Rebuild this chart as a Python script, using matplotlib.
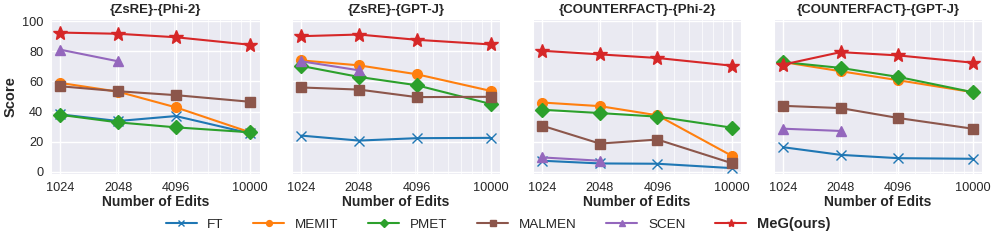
import matplotlib
matplotlib.use("Agg")
import matplotlib.pyplot as plt
from matplotlib.ticker import FixedLocator, NullFormatter
import seaborn as sns

sns.set_style("darkgrid")
plt.rcParams["font.family"] = ["Liberation Sans", "DejaVu Sans"]

edits = [1024, 2048, 4096, 10000]
scen_edits = [1024, 2048]

titles = ["{ZsRE}-{Phi-2}", "{ZsRE}-{GPT-J}", "{COUNTERFACT}-{Phi-2}", "{COUNTERFACT}-{GPT-J}"]

ft = [
    [38.1, 33.7, 37.0, 25.5],
    [24.0, 20.7, 22.3, 22.5],
    [7.3, 5.5, 5.3, 2.4],
    [16.3, 11.2, 9.0, 8.6],
]
memit = [
    [59.0, 53.2, 42.8, 26.2],
    [74.0, 70.7, 64.8, 53.7],
    [46.0, 43.6, 37.5, 10.6],
    [72.9, 66.8, 60.8, 52.9],
]
pmet = [
    [37.8, 32.8, 29.5, 26.2],
    [70.3, 63.0, 57.5, 45.0],
    [41.2, 39.0, 36.6, 29.3],
    [72.9, 69.0, 63.0, 52.9],
]
malmen = [
    [56.8, 53.5, 50.9, 46.5],
    [56.0, 54.6, 49.6, 49.8],
    [30.6, 18.7, 21.4, 5.7],
    [43.8, 42.3, 35.7, 28.6],
]
scen = [
    [81.1, 73.4],
    [73.4, 67.4],
    [9.5, 7.3],
    [28.6, 27.1],
]
meg = [
    [92.5, 91.7, 89.4, 84.4],
    [90.1, 91.2, 87.7, 84.6],
    [80.4, 78.0, 75.6, 70.5],
    [71.2, 79.5, 77.3, 72.5],
]

fig, axes = plt.subplots(1, 4, figsize=(9.96, 2.44), dpi=100, sharey=True)
fig.subplots_adjust(left=0.0512, right=0.986, bottom=0.287, top=0.922, wspace=0.155)

for i, ax in enumerate(axes):
    ax.plot(edits, ft[i], color="tab:blue", marker="x", markersize=7, linewidth=1.5, label="FT")
    ax.plot(edits, memit[i], color="tab:orange", marker="o", markersize=7, linewidth=1.5, label="MEMIT")
    ax.plot(edits, pmet[i], color="tab:green", marker="D", markersize=7, linewidth=1.5, label="PMET")
    ax.plot(edits, malmen[i], color="tab:brown", marker="s", markersize=7, linewidth=1.5, label="MALMEN")
    ax.plot(scen_edits, scen[i], color="tab:purple", marker="^", markersize=7, linewidth=1.5, label="SCEN")
    ax.plot(edits, meg[i], color="tab:red", marker="*", markersize=10, linewidth=1.5, label="MeG(ours)")
    ax.set_xscale("log")
    ax.xaxis.set_major_locator(FixedLocator(edits))
    ax.set_xticklabels([str(e) for e in edits])
    ax.xaxis.set_minor_formatter(NullFormatter())
    ax.grid(True, which="major", color="white", linewidth=1.0)
    ax.grid(True, which="minor", axis="x", color="white", linewidth=0.5)
    ax.set_ylim(-1.5, 101.5)
    ax.set_yticks([0, 20, 40, 60, 80, 100])
    ax.tick_params(axis="both", labelsize=9.2, pad=2)
    ax.set_title(titles[i], fontsize=9.5, fontweight="bold", pad=4)
    ax.set_xlabel("Number of Edits", fontsize=10, fontweight="bold", labelpad=1)

axes[0].set_ylabel("Score", fontsize=10.5, fontweight="bold", labelpad=3)

handles, labels = axes[0].get_legend_handles_labels()
leg = fig.legend(handles, labels, loc="center", bbox_to_anchor=(0.5, 0.082), ncol=6,
                 frameon=False, fontsize=9.7, markerscale=0.6, handlelength=2.3,
                 columnspacing=2.2)
leg.get_texts()[-1].set_fontweight("bold")
leg.get_texts()[-1].set_fontsize(10.5)

fig.savefig("out.png", dpi=100)
